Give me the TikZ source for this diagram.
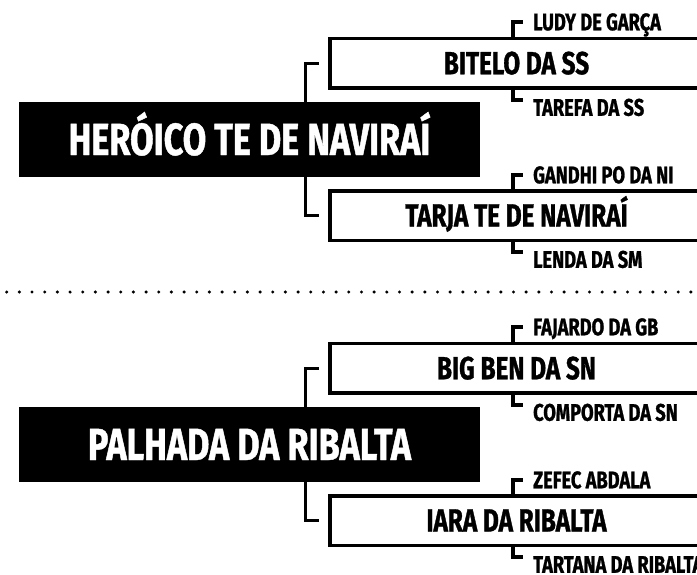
\documentclass[tikz,border=0pt]{standalone}
\usepackage{fontspec}
\newfontfamily\condfont[FakeStretch=0.76, FakeBold=1]{Fira Sans}
\tikzset{
  mainbox/.style={fill=black, text=white, minimum width=461pt, minimum height=75pt, inner sep=0pt,
    font=\condfont\bfseries\fontsize{45}{45}\selectfont, text height=31pt, text depth=0pt},
  subbox/.style={draw=black, line width=3.5pt, fill=white, minimum width=373pt, minimum height=49.5pt, inner sep=0pt,
    font=\condfont\bfseries\fontsize{32}{32}\selectfont, text height=22pt, text depth=0pt},
  leaf/.style={anchor=west, inner sep=0pt,
    font=\condfont\bfseries\fontsize{24}{24}\selectfont, text height=16.5pt, text depth=0pt},
  bracket/.style={line width=3.5pt},
  sepline/.style={line width=3.4pt, line cap=round, dash pattern=on 0pt off 12.67pt},
}
\begin{document}
\begin{tikzpicture}[x=1pt,y=-1pt]
\useasboundingbox (0,0) rectangle (697,574);
\clip (0,0) rectangle (697,574);
\coordinate (kl) at (305.5,0);
\coordinate (kr) at (513,0);
% section 1
\node[mainbox] (m1) at (249.5,139.5) {HERÓICO TE DE NAVIRAÍ};
\node[subbox] (b1) at (516.5,63.25) {BITELO DA SS};
\node[subbox] (b2) at (516.5,215.5) {TARJA TE DE NAVIRAÍ};
\node[leaf] (l1) at (533,22) {LUDY DE GARÇA};
\node[leaf] (l2) at (533,107.5) {TAREFA DA SS};
\node[leaf] (l3) at (533,175) {GANDHI PO DA NI};
\node[leaf] (l4) at (533,259.5) {LENDA DA SM};
\draw[bracket, shorten >=9pt] (m1.north -| kl) |- (b1.west);
\draw[bracket, shorten >=9pt] (m1.south -| kl) |- (b2.west);
\draw[bracket, shorten >=10pt] (b1.north -| kr) |- (l1.west);
\draw[bracket, shorten >=10pt] (b1.south -| kr) |- ([yshift=7.5pt]l2.west);
\draw[bracket, shorten >=10pt] (b2.north -| kr) |- (l3.west);
\draw[bracket, shorten >=10pt] (b2.south -| kr) |- ([yshift=7.5pt]l4.west);
% separator
\coordinate (s1) at (6.7,292);
\coordinate (s2) at (697,292);
\draw[sepline] (s1) -- (s2);
% section 2
\node[mainbox] (m2) at (249.5,444.5) {PALHADA DA RIBALTA};
\node[subbox] (b3) at (516.5,368.25) {BIG BEN DA SN};
\node[subbox] (b4) at (516.5,520.5) {IARA DA RIBALTA};
\node[leaf] (l5) at (533,327) {FAJARDO DA GB};
\node[leaf] (l6) at (533,412.5) {COMPORTA DA SN};
\node[leaf] (l7) at (533,480) {ZEFEC ABDALA};
\node[leaf] (l8) at (533,564.5) {TARTANA DA RIBALTA};
\draw[bracket, shorten >=9pt] (m2.north -| kl) |- (b3.west);
\draw[bracket, shorten >=9pt] (m2.south -| kl) |- (b4.west);
\draw[bracket, shorten >=10pt] (b3.north -| kr) |- (l5.west);
\draw[bracket, shorten >=10pt] (b3.south -| kr) |- ([yshift=7.5pt]l6.west);
\draw[bracket, shorten >=10pt] (b4.north -| kr) |- (l7.west);
\draw[bracket, shorten >=10pt] (b4.south -| kr) |- ([yshift=7.5pt]l8.west);
\end{tikzpicture}
\end{document}
